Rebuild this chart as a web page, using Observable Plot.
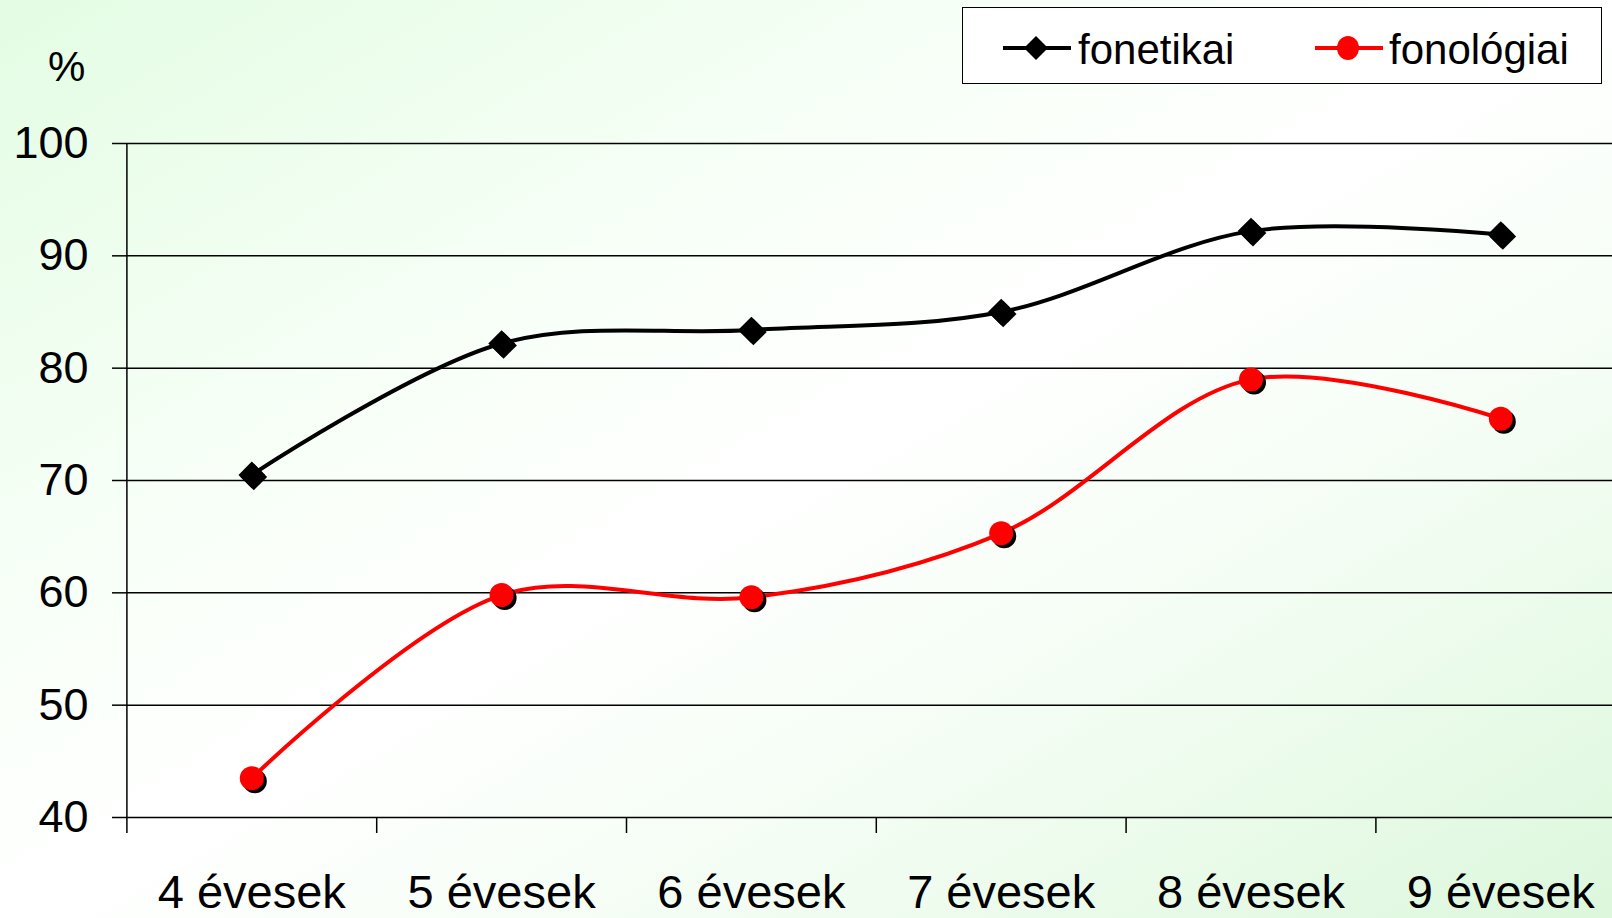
<!DOCTYPE html>
<html><head><meta charset="utf-8">
<script src="https://cdn.jsdelivr.net/npm/d3@7"></script>
<script src="https://cdn.jsdelivr.net/npm/@observablehq/plot@0.6"></script>
<style>
html,body{margin:0;padding:0;}
body{width:1612px;height:918px;overflow:hidden;}
#wrap{position:relative;width:1612px;height:918px;overflow:hidden;
  background:linear-gradient(150deg,#e3fce3 0%,#f6fff6 30%,#ffffff 50%,#f3fdf3 72%,#dcf7dc 100%);
  font-family:"Liberation Sans",Arial,sans-serif;}
#wrap svg{position:absolute;left:0;top:0;background:transparent;}
#pct{position:absolute;left:48px;top:46px;font-size:42px;line-height:1;color:#000;}
#legend{position:absolute;left:962px;top:7px;width:640px;height:77px;box-sizing:border-box;border:1.5px solid #000;background:#fff;}
#legend .sw{position:absolute;top:0;}
#legend .lt{position:absolute;top:21px;font-size:42px;line-height:1;color:#000;white-space:nowrap;}
</style></head>
<body><div id="wrap"></div>
<script>
const categories = ["4 évesek","5 évesek","6 évesek","7 évesek","8 évesek","9 évesek"];
const fonetikai = [70.5, 82.2, 83.4, 85.0, 92.2, 91.9];
const fonologiai = [43.5, 59.8, 59.6, 65.3, 79.0, 75.5];
const yTicks = [40, 50, 60, 70, 80, 90, 100];
const seriesNames = ["fonetikai", "fonológiai"];
const seriesColors = ["#000000", "#ff0000"];

const rows = categories.flatMap((c, i) => [
  {cat: c, pos: i + 0.5, series: seriesNames[0], value: fonetikai[i]},
  {cat: c, pos: i + 0.5, series: seriesNames[1], value: fonologiai[i]}
]);
const rowsA = rows.filter(d => d.series === seriesNames[0]);
const rowsB = rows.filter(d => d.series === seriesNames[1]);

const chart = Plot.plot({
  width: 1612, height: 918,
  marginLeft: 126, marginRight: 0, marginTop: 143, marginBottom: 101,
  style: {background: "transparent", fontFamily: "'Liberation Sans', Arial, sans-serif", color: "#000", overflow: "visible"},
  x: {type: "linear", domain: [0, categories.length], range: [126.4, 1625.2]},
  y: {domain: [40, 100]},
  color: {domain: seriesNames, range: seriesColors},
  marks: [
    Plot.ruleY(yTicks, {stroke: "#000", strokeWidth: 1.5}),
    Plot.ruleX([0], {y1: 40, y2: 100, stroke: "#000", strokeWidth: 1.5}),
    Plot.axisY({ticks: yTicks, tickSize: 14, tickPadding: 24, fontSize: 45, strokeWidth: 1.5, label: null}),
    Plot.axisX({ticks: d3.range(0, categories.length + 1), tickSize: 16, tickFormat: () => "", strokeWidth: 1.5, label: null}),
    Plot.axisX({ticks: categories.map((c, i) => i + 0.5), tickSize: 0, tickPadding: 57, fontSize: 47,
      tickFormat: d => categories[Math.floor(d)], label: null}),
    Plot.line(rows, {x: "pos", y: "value", z: "series", stroke: "series", strokeWidth: 4, curve: "catmull-rom"}),
    Plot.dot(rowsA, {x: "pos", y: "value", symbol: "diamond2", r: 12, fill: "#000", dx: 2, dy: 2}),
    Plot.dot(rowsA, {x: "pos", y: "value", symbol: "diamond2", r: 12, fill: "series"}),
    Plot.dot(rowsB, {x: "pos", y: "value", r: 12, fill: "#000", dx: 3, dy: 3}),
    Plot.dot(rowsB, {x: "pos", y: "value", r: 12, fill: "series"})
  ]
});
const wrap = document.getElementById("wrap");
wrap.appendChild(chart);

const pct = document.createElement("div");
pct.id = "pct"; pct.textContent = "%";
wrap.appendChild(pct);

const legend = document.createElement("div");
legend.id = "legend";
legend.innerHTML =
  `<svg class="sw" style="left:40px" width="68" height="77">
     <line x1="0" x2="68" y1="40" y2="40" stroke="${seriesColors[0]}" stroke-width="4"/>
     <path d="M33,28 L45,40 L33,52 L21,40 Z" fill="${seriesColors[0]}"/>
   </svg>
   <div class="lt" style="left:115px">${seriesNames[0]}</div>
   <svg class="sw" style="left:352px" width="68" height="77">
     <line x1="0" x2="68" y1="40" y2="40" stroke="${seriesColors[1]}" stroke-width="4"/>
     <ellipse cx="33" cy="40" rx="11" ry="12" fill="${seriesColors[1]}"/>
   </svg>
   <div class="lt" style="left:426px">${seriesNames[1]}</div>`;
wrap.appendChild(legend);
</script>
</body></html>
